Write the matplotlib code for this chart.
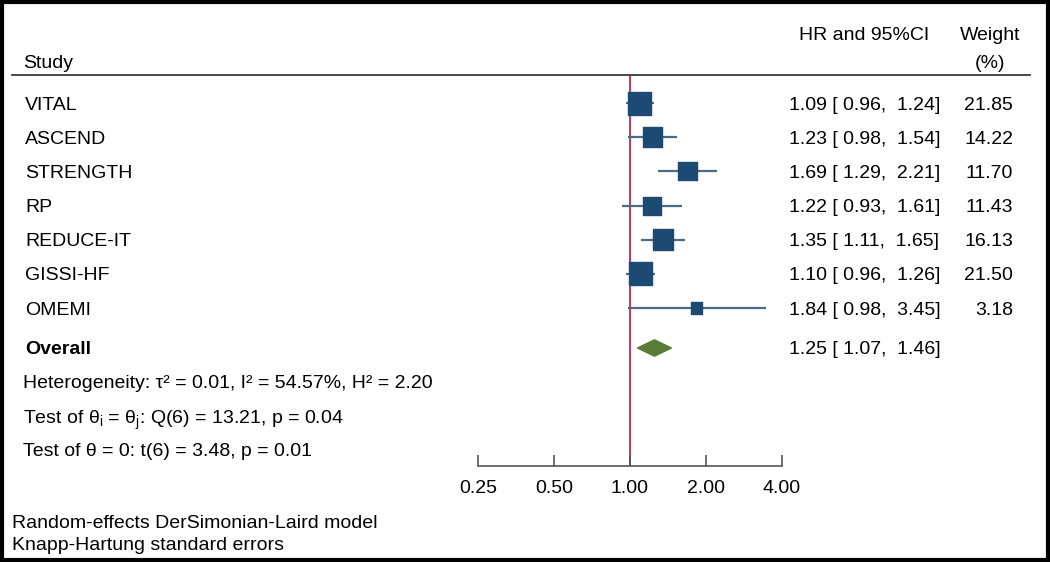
import matplotlib
matplotlib.use('Agg')
import matplotlib.pyplot as plt
import matplotlib.transforms as mtransforms
from matplotlib.patches import Rectangle
from matplotlib.lines import Line2D
import numpy as np

plt.rcParams['font.family'] = ['Liberation Sans', 'DejaVu Sans']
plt.rcParams['mathtext.fontset'] = 'custom'
plt.rcParams['mathtext.rm'] = 'Liberation Sans'
plt.rcParams['mathtext.it'] = 'Liberation Sans'

# Datos del forest plot
studies = ['VITAL', 'ASCEND', 'STRENGTH', 'RP', 'REDUCE-IT', 'GISSI-HF', 'OMEMI']
hr = [1.09, 1.23, 1.69, 1.22, 1.35, 1.10, 1.84]
ci_low = [0.96, 0.98, 1.29, 0.93, 1.11, 0.96, 0.98]
ci_high = [1.24, 1.54, 2.21, 1.61, 1.65, 1.26, 3.45]
weights = [21.85, 14.22, 11.70, 11.43, 16.13, 21.50, 3.18]

overall_hr = 1.25
overall_low = 1.07
overall_high = 1.46

stats_lines = [
    'Heterogeneity: τ² = 0.01, I² = 54.57%, H² = 2.20',
    r'Test of θ$_\mathregular{i}$ = θ$_\mathregular{j}$: Q(6) = 13.21, p = 0.04',
    'Test of θ = 0: t(6) = 3.48, p = 0.01',
]
xticks = [0.25, 0.5, 1.0, 2.0, 4.0]
footnotes = ['Random-effects DerSimonian-Laird model', 'Knapp-Hartung standard errors']

# Colores
COLORS = {
    'square': '#1d4a73',
    'ci': '#4f6b80',
    'diamond': '#5a7b36',
    'null': '#c42452',
    'rule': '#3a3a3a',
}
FS = 14

W, H = 1050, 562
fig = plt.figure(figsize=(W / 100, H / 100), dpi=100)

# Ejes del gráfico (escala log2)
x0, x1 = 478 / W, 782 / W
yb, yt = (H - 466) / H, (H - 75) / H
ax = fig.add_axes([x0, yb, x1 - x0, yt - yb])
ax.set_xscale('log', base=2)
ax.set_xlim(0.25, 4.0)

row_gap = 34.17
def px_to_row(p):
    return (p - 103) / row_gap

ax.set_ylim(px_to_row(466), px_to_row(75))
study_y = np.arange(len(studies))
overall_y = px_to_row(348)
stats_y = [px_to_row(382), px_to_row(416), px_to_row(450)]

for s in ['top', 'right', 'left']:
    ax.spines[s].set_visible(False)
ax.spines['bottom'].set_color('#555555')
ax.spines['bottom'].set_linewidth(1.2)
ax.set_yticks([])
ax.set_xticks(xticks)
ax.set_xticklabels(['%.2f' % t for t in xticks], fontsize=FS)
ax.minorticks_off()
ax.tick_params(axis='x', direction='in', length=8, width=1.2, color='#555555', pad=10)
ax.patch.set_alpha(0)

# Línea de no efecto
ax.axvline(1.0, color=COLORS['null'], lw=1.3, zorder=1)

# Intervalos de confianza y cuadrados
ax.hlines(study_y, ci_low, ci_high, color=COLORS['ci'], lw=1.6, zorder=2, clip_on=False)
sizes = [(23 * (w / 21.85) ** 0.38 * 0.72) ** 2 for w in weights]
ax.scatter(hr, study_y, s=sizes, marker='s', color=COLORS['square'], zorder=3, clip_on=False)

# Diamante global
dh = 0.24
ax.fill([overall_low, overall_hr, overall_high, overall_hr],
        [overall_y, overall_y - dh, overall_y, overall_y + dh],
        color=COLORS['diamond'], zorder=3, clip_on=False)

# Textos
trans = mtransforms.blended_transform_factory(fig.transFigure, ax.transData)
VA = 'center_baseline'
for y, name, h, lo, hi, w in zip(study_y, studies, hr, ci_low, ci_high, weights):
    ax.text(25 / W, y, name, transform=trans, fontsize=FS, va=VA)
    ax.text(789 / W, y, '%.2f [ %.2f,  %.2f]' % (h, lo, hi), transform=trans,
            fontsize=FS, va=VA, ha='left')
    ax.text(1013 / W, y, '%.2f' % w, transform=trans, fontsize=FS, va=VA, ha='right')

ax.text(25 / W, overall_y, 'Overall', transform=trans, fontsize=FS, fontweight='bold', va=VA)
ax.text(789 / W, overall_y, '%.2f [ %.2f,  %.2f]' % (overall_hr, overall_low, overall_high),
        transform=trans, fontsize=FS, va=VA, ha='left')
for y, line in zip(stats_y, stats_lines):
    ax.text(23 / W, y, line, transform=trans, fontsize=FS, va=VA)

# Encabezados
fig.text(23 / W, 1 - 62 / H, 'Study', fontsize=FS, va=VA)
fig.text(864 / W, 1 - 33 / H, 'HR and 95%CI', fontsize=FS, va=VA, ha='center')
fig.text(990 / W, 1 - 33 / H, 'Weight', fontsize=FS, va=VA, ha='center')
fig.text(990 / W, 1 - 62 / H, '(%)', fontsize=FS, va=VA, ha='center')
fig.add_artist(Line2D([12 / W, 1030 / W], [1 - 75 / H, 1 - 75 / H],
                      transform=fig.transFigure, color=COLORS['rule'], lw=1.3))

# Notas al pie
fig.text(12 / W, 1 - 521 / H, footnotes[0], fontsize=FS, va=VA)
fig.text(12 / W, 1 - 543 / H, footnotes[1], fontsize=FS, va=VA)

# Marco
fig.add_artist(Rectangle((0.002, 0.003), 0.996, 0.994, transform=fig.transFigure,
                         fill=False, edgecolor='black', lw=3))

fig.savefig('out.png', dpi=100)
